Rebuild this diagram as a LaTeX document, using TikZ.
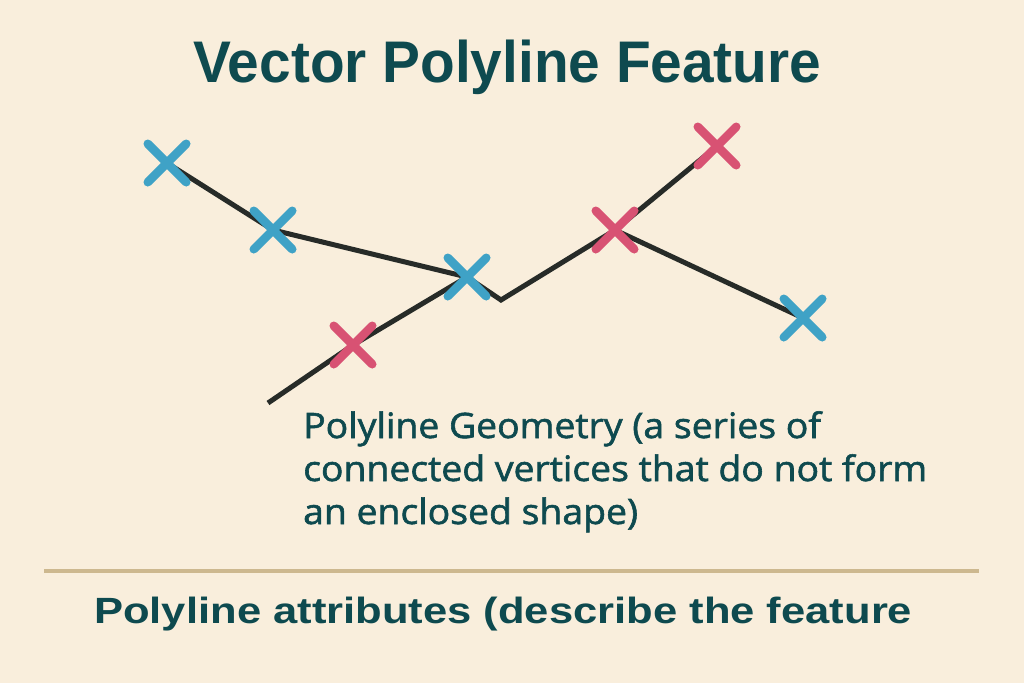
\documentclass[tikz,border=0pt]{standalone}
\usepackage{fontspec}
\setmainfont{Liberation Sans}
\newfontfamily\bodyfont[FakeBold=1.6]{Open Sans}
\usetikzlibrary{shapes.misc}
\definecolor{bgc}{HTML}{F9EEDC}
\definecolor{ink}{HTML}{0E4A4F}
\definecolor{vblue}{HTML}{3FA2C6}
\definecolor{vred}{HTML}{D85273}
\definecolor{linec}{HTML}{272B28}
\definecolor{rulec}{HTML}{CDB88F}
\pgfdeclarelayer{bglayer}
\pgfdeclarelayer{lines}
\pgfsetlayers{bglayer,lines,main}
\newsavebox\fitbox
\newcommand\fitwidth[2]{\sbox\fitbox{#2}\pgfmathsetmacro\fitratio{#1/\wd\fitbox}\scalebox{\fitratio}[1]{\usebox\fitbox}}
\tikzset{
  vx/.style={cross out, draw=#1, line width=8.5pt, line cap=round, minimum size=30pt, inner sep=0pt},
  polyline/.style={draw=linec, line width=5pt, line join=miter},
  txt/.style={inner sep=0pt, text=ink, align=left}
}
\begin{document}
\begin{tikzpicture}[x=1pt,y=-1pt]
\begin{pgfonlayer}{bglayer}
\fill[bgc] (0,0) rectangle (1024,683);
\end{pgfonlayer}
\useasboundingbox (0,0) rectangle (1024,683);

% title
\node[txt, anchor=base west] (title) at (193,82)
  {\fitwidth{628}{\fontsize{58.7}{70}\selectfont\bfseries Vector Polyline Feature}};

% vertices
\node[vx=vblue] (x1) at (167,163) {};
\node[vx=vblue] (x2) at (273,230) {};
\node[vx=vblue] (x3) at (467,277) {};
\node[vx=vred]  (x4) at (353,345) {};
\node[vx=vred]  (x5) at (615,230) {};
\node[vx=vred]  (x6) at (717,146) {};
\node[vx=vblue] (x7) at (803,318) {};
\coordinate (bend) at (501,300);
\coordinate (tail) at (268,403);

\begin{pgfonlayer}{lines}
\draw[polyline] (x1.center) -- (x2.center) -- (x3.center) -- (bend) -- (x5.center) -- (x6.center);
\draw[polyline] (x5.center) -- (x7.center);
\draw[polyline] (x3.center) -- (x4.center) -- (tail);
\end{pgfonlayer}

% geometry label
\node[txt, anchor=base west] (geom) at (303,438)
  {\fitwidth{624}{\bodyfont\fontsize{35}{43}\selectfont
   \begin{tabular}[t]{@{}l@{}}Polyline Geometry (a series of\\connected vertices that do not form\\an enclosed shape)\end{tabular}}};

% rule
\coordinate (rl) at (44,571);
\coordinate (rr) at (979,571);
\draw[rulec, line width=4pt] (rl) -- (rr);

% attributes label
\node[txt, anchor=base west] (attr) at (94,623)
  {\fitwidth{818}{\fontsize{36.5}{44}\selectfont\bfseries Polyline attributes (describe the feature}};
\end{tikzpicture}
\end{document}
